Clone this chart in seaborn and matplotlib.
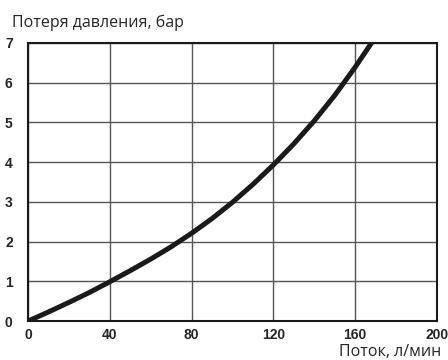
import matplotlib
matplotlib.use("Agg")
import matplotlib.pyplot as plt
import seaborn as sns
import pandas as pd

# flow (l/min) vs pressure loss (bar)
flow = [0, 10, 20, 30, 40, 50, 60, 70, 80, 90, 100, 110, 120, 130, 140, 150, 160, 168]
pressure = [0, 0.23, 0.47, 0.72, 0.99, 1.27, 1.56, 1.87, 2.21, 2.58, 2.99, 3.44,
            3.93, 4.46, 5.04, 5.68, 6.39, 7.0]

x_ticks = [0, 40, 80, 120, 160, 200]
y_ticks = [0, 1, 2, 3, 4, 5, 6, 7]

sns.set_style("white")
plt.rcParams['font.family'] = ['Open Sans', 'DejaVu Sans']

df = pd.DataFrame({"flow": flow, "pressure": pressure})

fig = plt.figure(figsize=(4.48, 3.6), dpi=100)
ax = fig.add_axes([0.0625, 0.108, 0.913, 0.773])

sns.lineplot(data=df, x="flow", y="pressure", color="#1a1a1a", linewidth=3.6, ax=ax)

ax.set_xlim(0, 200)
ax.set_ylim(0, 7)
ax.set_xticks(x_ticks)
ax.set_yticks(y_ticks)
ax.grid(True, color="#555555", linewidth=1.0)
ax.set_axisbelow(True)
for s in ax.spines.values():
    s.set_color("#1a1a1a")
    s.set_linewidth(1.5)

ax.tick_params(length=0, labelsize=10, pad=5)
for lbl in ax.get_xticklabels() + ax.get_yticklabels():
    lbl.set_fontweight("bold")
    lbl.set_family("Liberation Sans")
ax.tick_params(axis="y", pad=11)

ax.set_xlabel("")
ax.set_ylabel("")
fig.text(0.027, 0.926, "Потеря давления, бар", fontsize=11.5, ha="left", va="baseline")
fig.text(0.985, 0.01, "Поток, л/мин", fontsize=11.5, ha="right", va="baseline")

fig.savefig("out.png", dpi=100)
